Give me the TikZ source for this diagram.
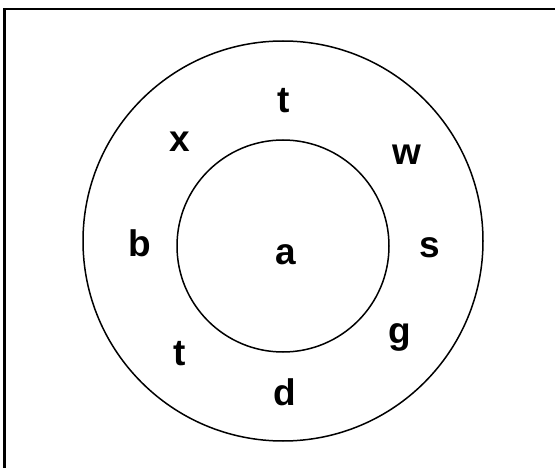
\documentclass[tikz,border=0pt]{standalone}
\usepackage{fontspec}
\setmainfont{Liberation Sans}
\begin{document}
\begin{tikzpicture}[x=1pt,y=-1pt,
  lbl/.style={font=\fontsize{37}{42}\selectfont\bfseries, anchor=base, inner sep=0pt},
  ring/.style={draw=black, line width=1.5pt}]
\useasboundingbox (0,0) rectangle (555,468);
\coordinate (tl) at (4.5,9);
\coordinate (tr) at (555,9);
\coordinate (bl) at (4.5,468);
\draw[line width=2.5pt] (tr) -- (tl) -- (bl);
\node[ring, circle, minimum size=400pt, inner sep=0pt] (outer) at (283,241) {};
\node[ring, circle, minimum size=212pt, inner sep=0pt] (inner) at (283,246) {};
\node[lbl] (ttop) at (284,113) {t};
\node[lbl] (x) at (180,152) {x};
\node[lbl] (w) at (407,165) {w};
\node[lbl] (b) at (140,257) {b};
\node[lbl] (s) at (430,258) {s};
\node[lbl] (a) at (286,265) {a};
\node[lbl] (tbot) at (180,365) {t};
\node[lbl] (g) at (400,343) {g};
\node[lbl] (d) at (285,405) {d};
\end{tikzpicture}
\end{document}
